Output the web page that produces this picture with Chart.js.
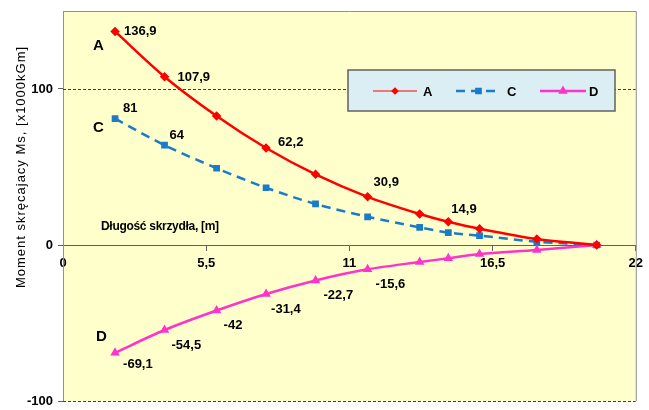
<!DOCTYPE html>
<html>
<head>
<meta charset="utf-8">
<script src="https://cdn.jsdelivr.net/npm/chart.js@4.4.1/dist/chart.umd.min.js"></script>
<style>
  html, body { margin: 0; padding: 0; background: #fff; }
  #wrap { width: 649px; height: 410px; }
</style>
</head>
<body>
<div id="wrap"><canvas id="chart"></canvas></div>
<script>
// ===============================
// DATA
// ===============================
const xMeters = [2, 3.9, 5.9, 7.8, 9.7, 11.7, 13.7, 14.8, 16, 18.2, 20.5];
const momentA = [136.9, 107.9, 82.7, 62.2, 45.3, 30.9, 19.9, 14.9, 10.4, 3.8, 0];
const momentC = [81, 64, 49.2, 36.7, 26.3, 18.1, 11.3, 7.9, 6.0, 2.1, 0];
const momentD = [-69.1, -54.5, -42, -31.4, -22.7, -15.6, -10.9, -8.5, -5.8, -3.2, 0];

const seriesNames = ["A", "C", "D"];
const xTicks = [0, 5.5, 11, 16.5, 22];
const yTicks = [-100, 0, 100];

// which points carry a value label
const labeledA = [0, 1, 3, 5, 7];
const labeledC = [0, 1];
const labeledD = [0, 1, 2, 3, 4, 5];

const yTitle = "Moment skręcajacy Ms, [x1000kGm]";
const xTitle = "Długość skrzydła, [m]";

// ===============================
// HELPERS
// ===============================
function fmt(v) {
  return String(v).replace(".", ",");
}
function toPoints(ys) {
  return ys.map((y, i) => ({ x: xMeters[i], y }));
}

const FONT = "'Liberation Sans', Arial, sans-serif";

// ===============================
// PLUGIN: background, grid, labels, legend
// ===============================
const decorPlugin = {
  id: "decor",
  beforeDraw(chart) {
    const { ctx, chartArea: a } = chart;
    ctx.save();
    ctx.fillStyle = "#FFFFCC";
    ctx.fillRect(a.left, a.top, a.right - a.left, a.bottom - a.top);
    ctx.restore();
  },
  beforeDatasetsDraw(chart) {
    const { ctx, chartArea: a, scales } = chart;
    ctx.save();
    // dashed lines at +-100
    ctx.strokeStyle = "#404040";
    ctx.lineWidth = 1;
    ctx.setLineDash([3, 2]);
    [100, -100].forEach(v => {
      const y = Math.round(scales.y.getPixelForValue(v)) + 0.5;
      ctx.beginPath();
      ctx.moveTo(a.left, y);
      ctx.lineTo(a.right, y);
      ctx.stroke();
    });
    ctx.setLineDash([]);
    // top and right border
    ctx.strokeStyle = "#909090";
    ctx.beginPath();
    ctx.moveTo(a.left, a.top + 0.5);
    ctx.lineTo(a.right + 0.5, a.top + 0.5);
    ctx.lineTo(a.right + 0.5, a.bottom);
    ctx.stroke();
    ctx.restore();
  },
  afterDatasetsDraw(chart) {
    const { ctx, chartArea: a } = chart;
    ctx.save();

    // value labels
    const offsets = [
      [[9, 0], [13, 1], [12, -6], [6, -14], [3, -12]],
      [[8, -10], [5, -10]],
      [[8, 12], [7, 15], [7, 15], [5, 15], [8, 15], [8, 15]],
    ];
    const which = [labeledA, labeledC, labeledD];
    ctx.fillStyle = "#000";
    ctx.font = "bold 13px " + FONT;
    ctx.textAlign = "left";
    ctx.textBaseline = "middle";
    which.forEach((idxs, di) => {
      const meta = chart.getDatasetMeta(di);
      const data = chart.data.datasets[di].data;
      idxs.forEach((pi, k) => {
        const pt = meta.data[pi];
        const [dx, dy] = offsets[di][k];
        ctx.fillText(fmt(data[pi].y), pt.x + dx, pt.y + dy);
      });
    });

    // series letters
    ctx.font = "bold 15px " + FONT;
    const letterPos = [[-22, 14], [-22, 9], [-19, -16]];
    seriesNames.forEach((n, di) => {
      const pt = chart.getDatasetMeta(di).data[0];
      ctx.fillText(n, pt.x + letterPos[di][0], pt.y + letterPos[di][1]);
    });

    // x title inside plot
    ctx.font = "bold 12px " + FONT;
    ctx.letterSpacing = "-0.3px";
    ctx.fillText(xTitle, a.left + 38, chart.scales.y.getPixelForValue(0) - 18);
    ctx.letterSpacing = "0px";

    // y title
    ctx.save();
    ctx.translate(21, 167);
    ctx.rotate(-Math.PI / 2);
    ctx.textAlign = "center";
    ctx.font = "13px " + FONT;
    ctx.letterSpacing = "1px";
    ctx.fillText(yTitle, 0, 0);
    ctx.restore();

    // legend
    const lx = a.left + 285, ly = a.top + 59, lw = 267, lh = 41;
    ctx.fillStyle = "#DAEEF3";
    ctx.fillRect(lx, ly, lw, lh);
    ctx.strokeStyle = "#606060";
    ctx.lineWidth = 1.5;
    ctx.strokeRect(lx, ly, lw, lh);
    const cy = ly + 21;
    const entries = [
      { x: lx + 25, w: 44, tx: lx + 75 },
      { x: lx + 108, w: 45, tx: lx + 159 },
      { x: lx + 192, w: 46, tx: lx + 241 },
    ];
    chart.data.datasets.forEach((ds, di) => {
      const e = entries[di];
      ctx.strokeStyle = ds.borderColor;
      ctx.lineWidth = di === 0 ? 1.2 : ds.borderWidth;
      ctx.setLineDash(ds.borderDash || []);
      ctx.beginPath();
      ctx.moveTo(e.x, cy);
      ctx.lineTo(e.x + e.w, cy);
      ctx.stroke();
      ctx.setLineDash([]);
      ctx.fillStyle = ds.pointBackgroundColor;
      Chart.helpers.drawPoint(ctx, {
        pointStyle: ds.pointStyle,
        radius: ds.pointRadius,
        rotation: 0,
        borderWidth: 1,
      }, e.x + e.w / 2, cy);
      ctx.fillStyle = "#000";
      ctx.font = "bold 13px " + FONT;
      ctx.textAlign = "left";
      ctx.fillText(ds.label, e.tx, cy + 1);
    });

    ctx.restore();
  },
};

// ===============================
// CHART
// ===============================
const ctx = document.getElementById("chart");
new Chart(ctx, {
  type: "line",
  data: {
    datasets: [
      {
        label: seriesNames[0],
        data: toPoints(momentA),
        borderColor: "#FF0000",
        backgroundColor: "#FF0000",
        pointBackgroundColor: "#FF0000",
        pointBorderColor: "#FF0000",
        borderWidth: 2.5,
        pointStyle: "rectRot",
        pointRadius: 3,
        tension: 0.3,
      },
      {
        label: seriesNames[1],
        data: toPoints(momentC),
        borderColor: "#1A7BC9",
        backgroundColor: "#1A7BC9",
        pointBackgroundColor: "#1A7BC9",
        pointBorderColor: "#1A7BC9",
        borderWidth: 2.5,
        borderDash: [9, 6],
        pointStyle: "rect",
        pointRadius: 3,
        tension: 0.3,
      },
      {
        label: seriesNames[2],
        data: toPoints(momentD),
        borderColor: "#FF33CC",
        backgroundColor: "#FF33CC",
        pointBackgroundColor: "#FF33CC",
        pointBorderColor: "#FF33CC",
        borderWidth: 2.5,
        pointStyle: "triangle",
        pointRadius: 3,
        tension: 0.3,
      },
    ],
  },
  options: {
    responsive: true,
    maintainAspectRatio: false,
    animation: false,
    layout: { padding: { left: 0, right: 12, top: 11, bottom: 9 } },
    plugins: {
      legend: { display: false },
      tooltip: { enabled: false },
    },
    scales: {
      x: {
        type: "linear",
        min: 0,
        max: 22,
        position: { y: 0 },
        afterBuildTicks: (scale) => { scale.ticks = xTicks.map(v => ({ value: v })); },
        ticks: {
          color: "#000",
          font: { family: FONT, size: 13, weight: "bold" },
          padding: 6,
          maxRotation: 0,
          callback: (v) => fmt(v),
        },
        grid: { drawOnChartArea: false, drawTicks: true, tickLength: 5, color: "#606060" },
        border: { display: true, color: "#606060", width: 1 },
      },
      y: {
        type: "linear",
        min: -100,
        max: 150,
        afterBuildTicks: (scale) => { scale.ticks = yTicks.map(v => ({ value: v })); },
        afterFit: (scale) => {
          scale.width = 63;
          scale.paddingTop = 0;
          scale.paddingBottom = 0;
        },
        ticks: {
          color: "#000",
          font: { family: FONT, size: 13, weight: "bold" },
          padding: 5,
          callback: (v) => fmt(v),
        },
        grid: { drawOnChartArea: false, drawTicks: true, tickLength: 5, color: "#606060" },
        border: { display: true, color: "#909090", width: 1 },
      },
    },
  },
  plugins: [decorPlugin],
});
</script>
</body>
</html>
